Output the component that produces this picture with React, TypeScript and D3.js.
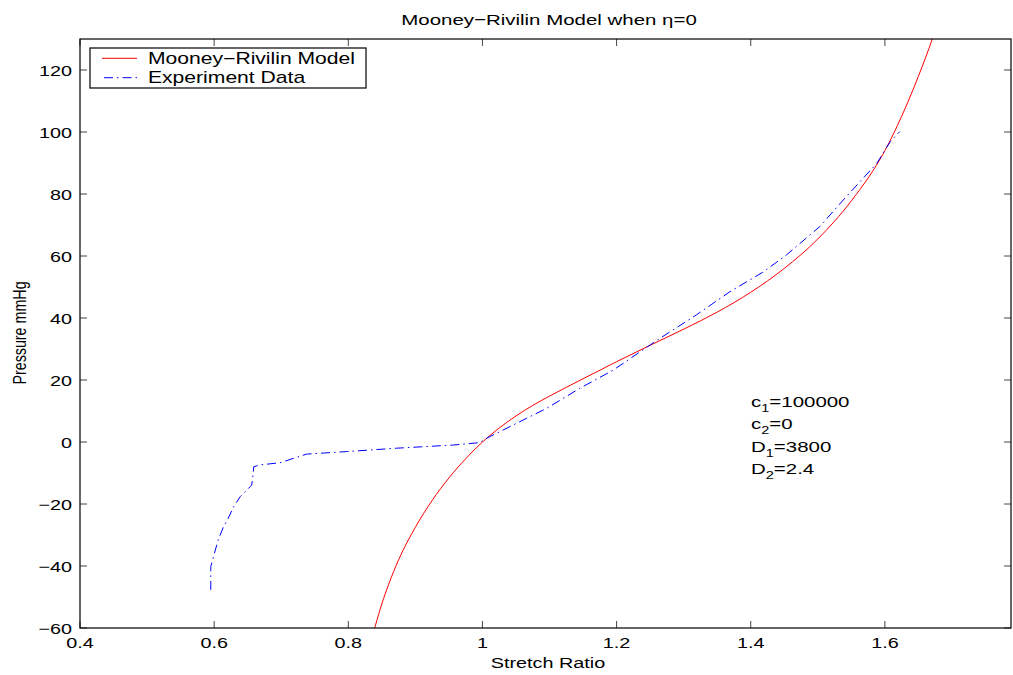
import React from "react";
import * as d3 from "d3";

const modelX = [0.836, 0.84, 0.85, 0.86, 0.875, 0.9, 0.925, 0.95, 0.975, 1.0, 1.025, 1.05, 1.075, 1.1, 1.15, 1.2, 1.25, 1.3, 1.35, 1.4, 1.45, 1.5, 1.55, 1.6, 1.65, 1.671, 1.68];
const modelP = [-62.5, -59.5, -52.2, -46.0, -38.0, -27.5, -18.85, -11.6, -5.4, 0, 4.5, 8.4, 11.8, 14.8, 20.4, 25.9, 31.2, 36.4, 41.9, 48.3, 56.0, 65.5, 77.8, 94.0, 118.0, 130.2, 136];

const expX = [0.595, 0.595, 0.599, 0.606, 0.614, 0.621, 0.629, 0.639, 0.656, 0.658, 0.659, 0.668, 0.698, 0.738, 0.797, 0.872, 0.957, 0.996, 1.006, 1.046, 1.096, 1.145, 1.195, 1.235, 1.265, 1.319, 1.369, 1.419, 1.453, 1.503, 1.538, 1.563, 1.588, 1.608, 1.622];
const expP = [-47.7, -40.2, -37, -31.6, -27.3, -24.6, -20.9, -17.6, -13.9, -10.6, -8.0, -7.4, -6.7, -3.9, -3.1, -2.0, -0.97, -0.2, 1.2, 5.5, 10.9, 17.3, 23.2, 29.1, 33.5, 41.0, 48.5, 54.9, 60.3, 69.5, 78.1, 84.0, 89.9, 96.9, 100.1];

const xTicks = [0.4, 0.6, 0.8, 1.0, 1.2, 1.4, 1.6];
const xTickLabels = ["0.4", "0.6", "0.8", "1", "1.2", "1.4", "1.6"];
const yTicks = [-60, -40, -20, 0, 20, 40, 60, 80, 100, 120];

const legendLabels = ["Mooney\u2212Rivilin Model", "Experiment Data"];
const titleText = "Mooney\u2212Rivilin Model when \u03b7=0";
const xLabel = "Stretch Ratio";
const yLabel = "Pressure mmHg";
const params = [
  { base: "c", sub: "1", val: "=100000" },
  { base: "c", sub: "2", val: "=0" },
  { base: "D", sub: "1", val: "=3800" },
  { base: "D", sub: "2", val: "=2.4" },
];

const W = 1013, H = 675;
const L = 80, R = 1011, T = 39, B = 628;
const SX = 1.32;
const FONT = "'Liberation Sans', Arial, Helvetica, sans-serif";
const fmtMinus = (v: number) => (v < 0 ? "\u2212" + Math.abs(v) : String(v));

export default function App() {
  const x = d3.scaleLinear().domain([0.4, 1.788]).range([L, R]);
  const y = d3.scaleLinear().domain([-60, 130]).range([B, T]);

  const redLine = d3.line<number>().x((_, i) => x(modelX[i])).y((_, i) => y(modelP[i])).curve(d3.curveMonotoneX);
  const blueLine = d3.line<number>().x((_, i) => x(expX[i])).y((_, i) => y(expP[i]));

  const tl = 7;
  const txt = (tx: number, ty: number, extra = "") => `translate(${tx},${ty}) scale(${SX},1)${extra}`;

  return (
    <svg width={W} height={H} style={{ position: "absolute", left: 0, top: 0, background: "#fff" }} fontFamily={FONT}>
      <rect x={0} y={0} width={W} height={H} fill="#fff" />
      <defs>
        <clipPath id="plotclip">
          <rect x={L} y={T} width={R - L} height={B - T} />
        </clipPath>
      </defs>
      {xTicks.map((t) => (
        <g key={"xt" + t}>
          <line x1={x(t)} x2={x(t)} y1={B} y2={B - tl} stroke="#444" strokeWidth={1} />
          <line x1={x(t)} x2={x(t)} y1={T} y2={T + tl} stroke="#444" strokeWidth={1} />
        </g>
      ))}
      {yTicks.map((t) => (
        <g key={"yt" + t}>
          <line x1={L} x2={L + tl} y1={y(t)} y2={y(t)} stroke="#444" strokeWidth={1} />
          <line x1={R} x2={R - tl} y1={y(t)} y2={y(t)} stroke="#444" strokeWidth={1} />
        </g>
      ))}
      <g clipPath="url(#plotclip)">
        <path d={redLine(modelX) || ""} fill="none" stroke="#ff0000" strokeWidth={1} />
        <path d={blueLine(expX) || ""} fill="none" stroke="#0000ff" strokeWidth={1} strokeDasharray="9,4,1.5,4" />
      </g>
      <rect x={L} y={T} width={R - L} height={B - T} fill="none" stroke="#000" strokeWidth={1.2} />
      {xTicks.map((t, i) => (
        <text key={"xl" + t} transform={txt(x(t), 648)} textAnchor="middle" fontSize={15} fill="#000">
          {xTickLabels[i]}
        </text>
      ))}
      {yTicks.map((t) => (
        <text key={"yl" + t} transform={txt(L - 8, y(t) + 5.5)} textAnchor="end" fontSize={15} fill="#000">
          {fmtMinus(t)}
        </text>
      ))}
      <text transform={txt(549, 25)} textAnchor="middle" fontSize={15.5} fill="#000">{titleText}</text>
      <text transform={txt(548, 668)} textAnchor="middle" fontSize={15} fill="#000">{xLabel}</text>
      <text transform={`translate(26,333) scale(${SX},1) rotate(-90)`} textAnchor="middle" fontSize={14.3} fill="#000">{yLabel}</text>
      <rect x={90} y={48} width={276} height={40} fill="#fff" stroke="#000" strokeWidth={1.2} />
      <line x1={102} x2={137} y1={58.3} y2={58.3} stroke="#ff0000" strokeWidth={1} />
      <line x1={102} x2={137} y1={77.7} y2={77.7} stroke="#0000ff" strokeWidth={1} strokeDasharray="9,4,1.5,4" strokeDashoffset={-2} />
      {legendLabels.map((l, i) => (
        <text key={l} transform={txt(148, 63.5 + i * 19)} fontSize={16} fill="#000">{l}</text>
      ))}
      {params.map((p, i) => (
        <text key={i} transform={txt(751, 406.5 + i * 22.5)} fontSize={15.5} fill="#000">
          {p.base}
          <tspan fontSize={11} dy={5}>{p.sub}</tspan>
          <tspan dy={-5}>{p.val}</tspan>
        </text>
      ))}
    </svg>
  );
}
